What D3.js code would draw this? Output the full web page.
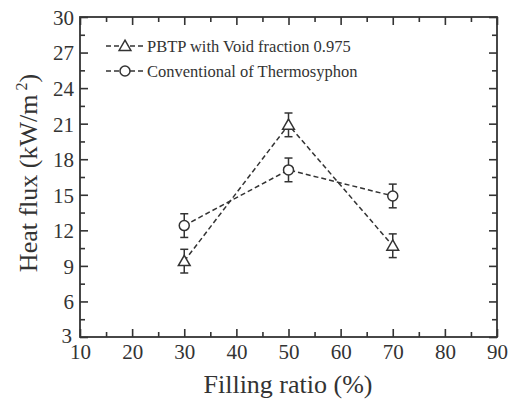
<!DOCTYPE html>
<html>
<head>
<meta charset="utf-8">
<script src="https://cdn.jsdelivr.net/npm/d3@7"></script>
<style>
  body { margin: 0; background: #fff; }
</style>
</head>
<body>
<div id="chart"></div>
<script>
const fillRatio = [30, 50, 70];
const pbtpFlux = [9.4, 20.9, 10.7];
const pbtpErr = [1.0, 1.0, 1.0];
const convFlux = [12.4, 17.1, 14.9];
const convErr = [1.0, 1.0, 1.0];
const xTicks = [10, 20, 30, 40, 50, 60, 70, 80, 90];
const yTicks = [3, 6, 9, 12, 15, 18, 21, 24, 27, 30];
const legendLabels = ["PBTP with Void fraction 0.975", "Conventional of Thermosyphon"];

const width = 525, height = 405;
const padL = 80, padR = 497, padT = 17, padB = 337;
const ink = "#333";
const serif = "'Liberation Serif', 'DejaVu Serif', serif";

const svg = d3.select("#chart").append("svg")
  .attr("width", width).attr("height", height)
  .attr("font-family", serif);

const x = d3.scaleLinear().domain([10, 90]).range([padL, padR]);
const y = d3.scaleLinear().domain([3, 30]).range([padB, padT]);

// minor + major ticks, pointing inward on all four sides
const xMinor = d3.range(15, 90, 10);
const yMinor = d3.range(4.5, 30, 3);

function ticks(axisFn, scale, vals, len, tr, showLabels) {
  const g = svg.append("g").attr("transform", tr)
    .call(axisFn(scale).tickValues(vals).tickSize(-len).tickSizeOuter(0)
      .tickFormat(showLabels ? d3.format("d") : ""));
  g.attr("font-family", serif);
  g.select(".domain").remove();
  g.selectAll(".tick line").attr("stroke", ink).attr("stroke-width", 1.6);
  return g;
}

const xb = ticks(d3.axisBottom, x, xTicks, 8, `translate(0,${padB})`, true);
ticks(d3.axisBottom, x, xMinor, 5, `translate(0,${padB})`, false);
ticks(d3.axisTop, x, xTicks, 8, `translate(0,${padT})`, false);
ticks(d3.axisTop, x, xMinor, 5, `translate(0,${padT})`, false);
const yl = ticks(d3.axisLeft, y, yTicks, 8, `translate(${padL},0)`, true);
ticks(d3.axisLeft, y, yMinor, 5, `translate(${padL},0)`, false);
ticks(d3.axisRight, y, yTicks, 8, `translate(${padR},0)`, false);
ticks(d3.axisRight, y, yMinor, 5, `translate(${padR},0)`, false);

xb.selectAll(".tick text").attr("font-size", 21).attr("fill", ink)
  .attr("y", 7).attr("dy", "0.71em");
yl.selectAll(".tick text").attr("font-size", 21).attr("fill", ink)
  .attr("x", -6).attr("dy", "0.35em")
  .filter((d) => d === 3).attr("dx", -2).attr("dy", "0.25em");

svg.append("rect")
  .attr("x", padL).attr("y", padT)
  .attr("width", padR - padL).attr("height", padB - padT)
  .attr("fill", "none").attr("stroke", ink).attr("stroke-width", 1.8);

// axis titles
svg.append("text")
  .attr("x", 288).attr("y", 393)
  .attr("text-anchor", "middle").attr("font-size", 26).attr("fill", ink)
  .text("Filling ratio (%)");

const yt = svg.append("text")
  .attr("transform", "translate(37,173) rotate(-90)")
  .attr("text-anchor", "middle").attr("font-size", 26).attr("fill", ink);
yt.append("tspan").text("Heat flux (kW/m");
yt.append("tspan").attr("font-size", 16).attr("dy", -10).text(" 2");
yt.append("tspan").attr("dy", 10).text(")");

// series
const series = [
  { vals: pbtpFlux, err: pbtpErr, shape: "triangle" },
  { vals: convFlux, err: convErr, shape: "circle" }
];

const line = d3.line().x((d) => x(d[0])).y((d) => y(d[1]));

function marker(g, cx, cy, shape) {
  if (shape === "circle") {
    g.append("circle").attr("cx", cx).attr("cy", cy).attr("r", 5)
      .attr("fill", "#fff").attr("stroke", ink).attr("stroke-width", 1.5);
  } else {
    g.append("path")
      .attr("d", d3.symbol().type(d3.symbolTriangle).size(60)())
      .attr("transform", `translate(${cx},${cy + 1})`)
      .attr("fill", "#fff").attr("stroke", ink).attr("stroke-width", 1.5);
  }
}

series.forEach((s) => {
  const pts = fillRatio.map((f, i) => [f, s.vals[i], s.err[i]]);
  svg.append("path").datum(pts).attr("d", line)
    .attr("fill", "none").attr("stroke", ink).attr("stroke-width", 1.5)
    .attr("stroke-dasharray", "5,3");

  const g = svg.append("g");
  pts.forEach((p) => {
    const cx = x(p[0]);
    const y1 = y(p[1] + p[2]), y0 = y(p[1] - p[2]);
    g.append("line").attr("x1", cx).attr("x2", cx).attr("y1", y1).attr("y2", y0)
      .attr("stroke", ink).attr("stroke-width", 1.5);
    [y1, y0].forEach((yy) => {
      g.append("line").attr("x1", cx - 4).attr("x2", cx + 4).attr("y1", yy).attr("y2", yy)
        .attr("stroke", ink).attr("stroke-width", 1.5);
    });
    marker(g, cx, y(p[1]), s.shape);
  });
});

// legend
legendLabels.forEach((lab, i) => {
  const ly = 46 + i * 25;
  const g = svg.append("g");
  g.append("line").attr("x1", 106).attr("x2", 145).attr("y1", ly).attr("y2", ly)
    .attr("stroke", ink).attr("stroke-width", 1.5).attr("stroke-dasharray", "5,3");
  marker(g, 125, ly, series[i].shape);
  g.append("text").attr("x", 147).attr("y", ly).attr("dy", "0.35em")
    .attr("font-size", 16.5).attr("fill", ink).text(lab);
});
</script>
</body>
</html>
